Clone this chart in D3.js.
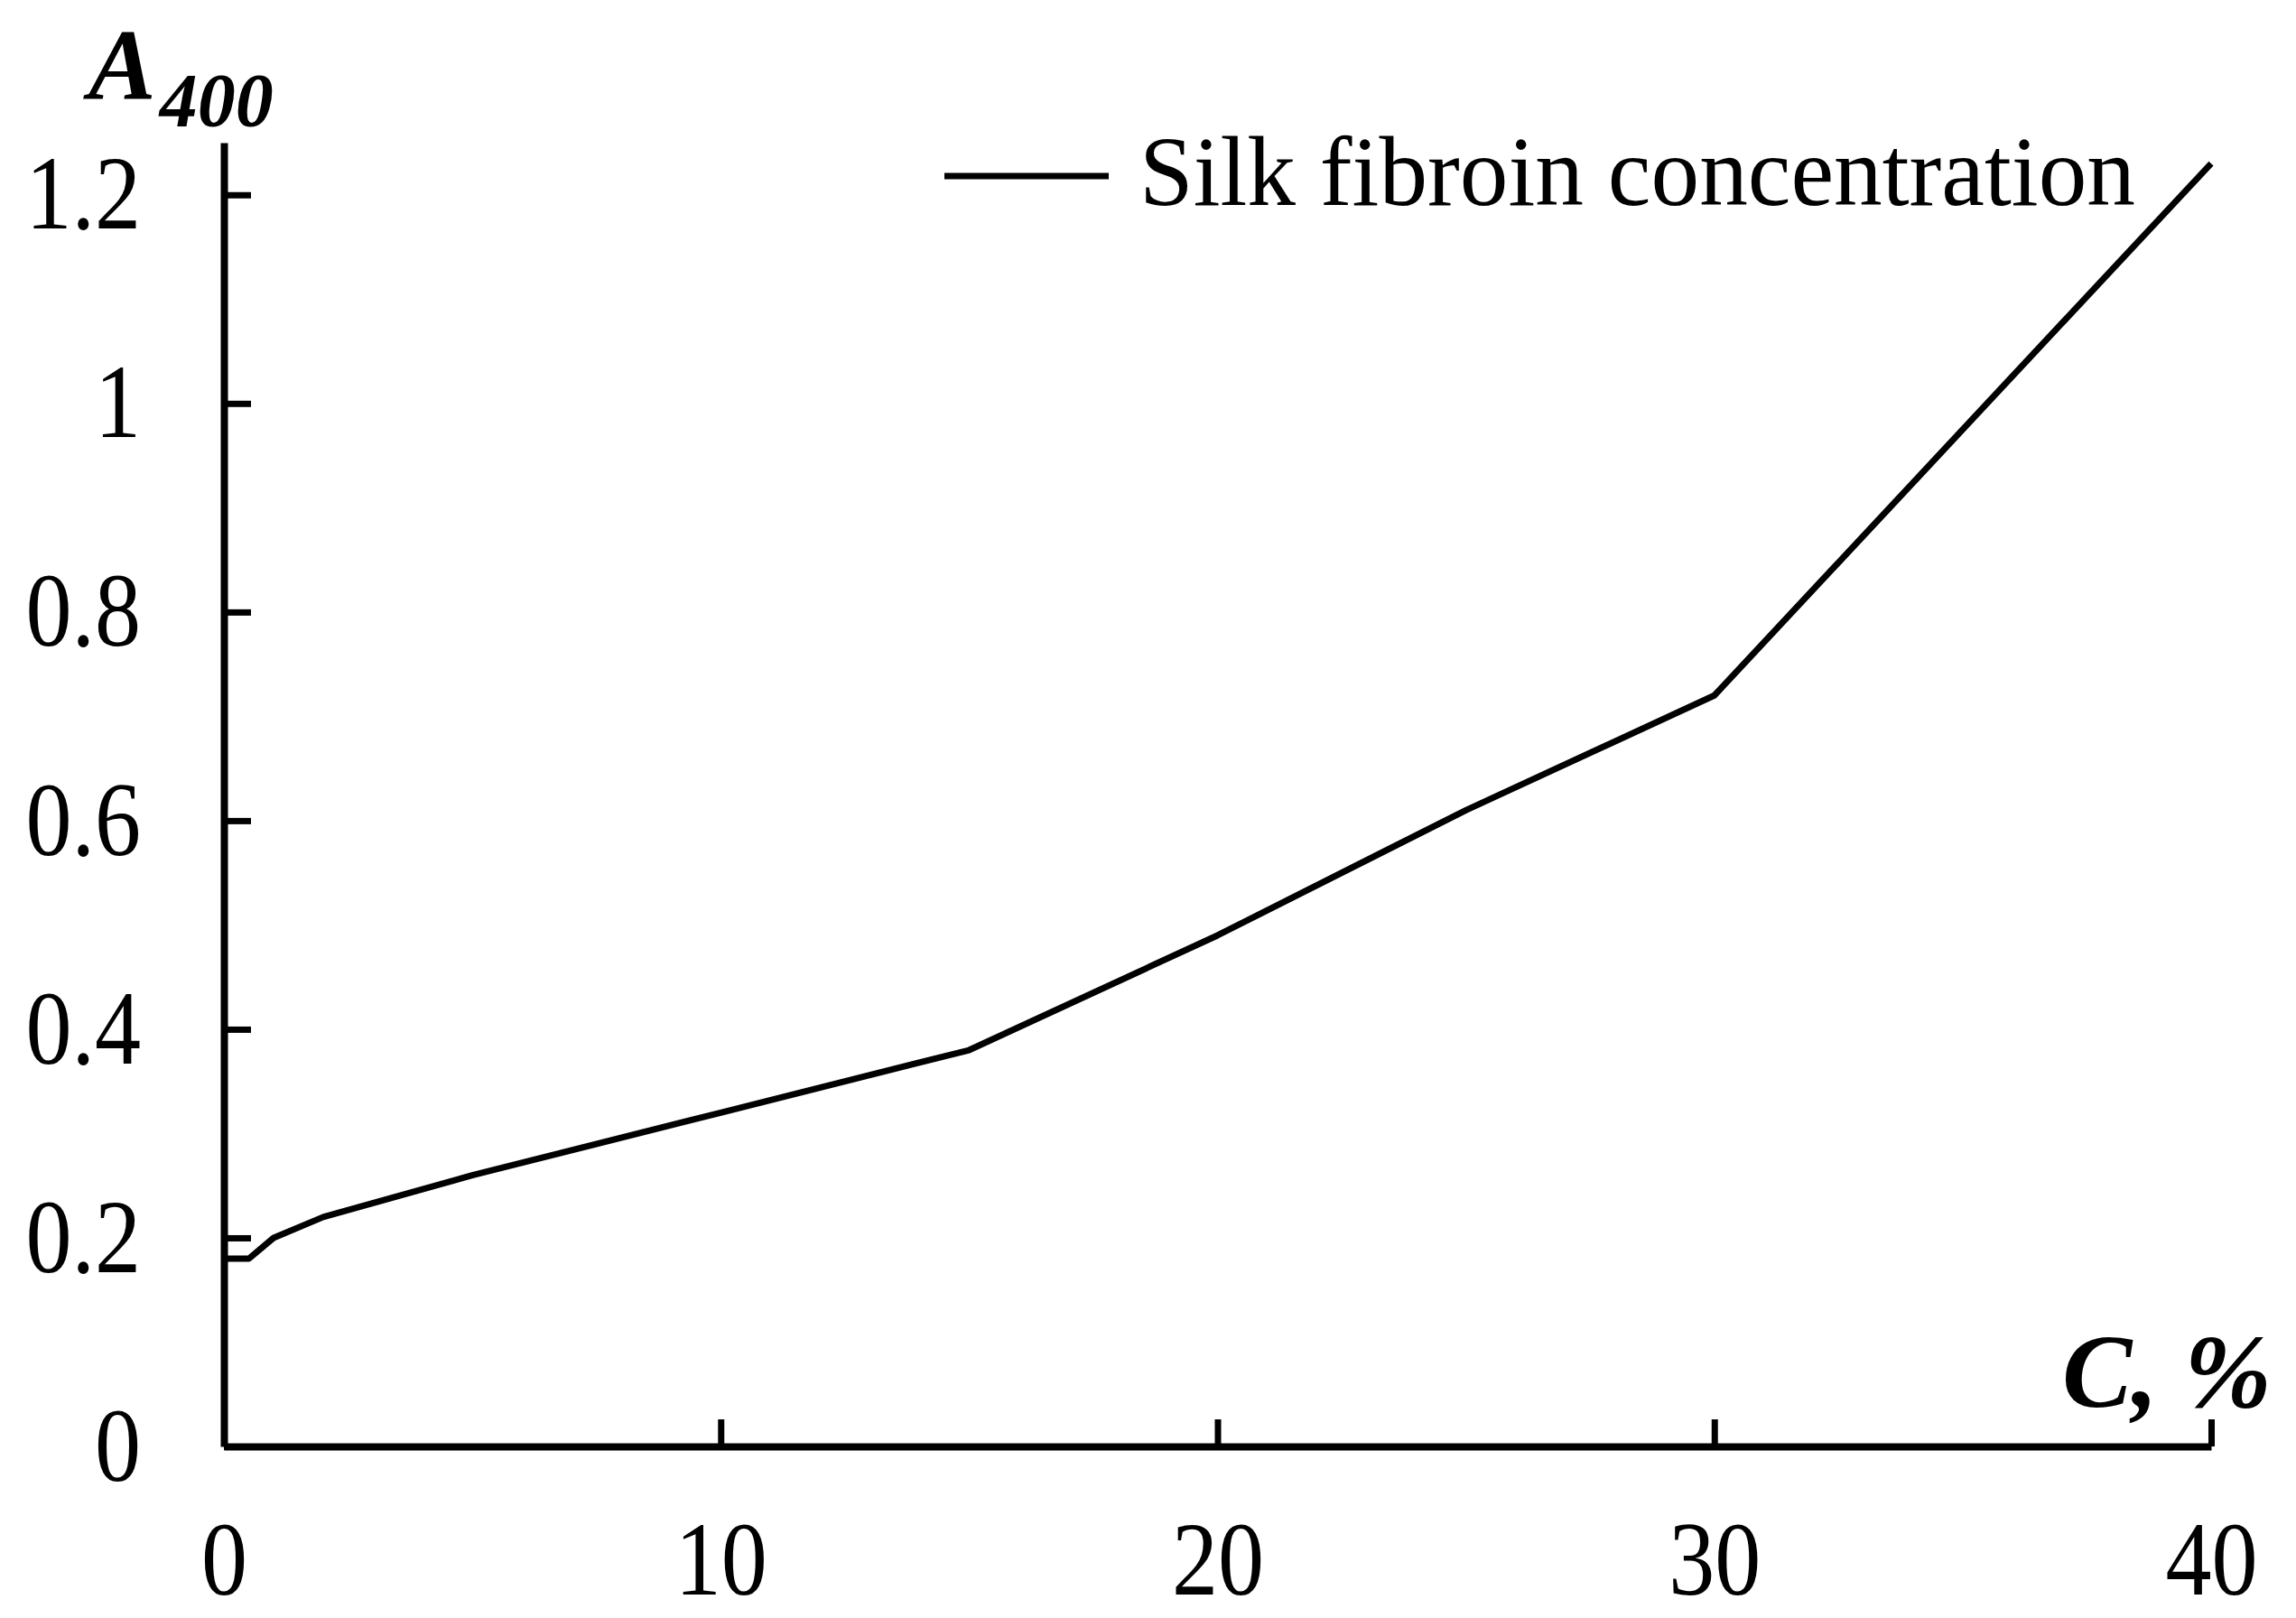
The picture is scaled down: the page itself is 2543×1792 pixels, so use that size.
<!DOCTYPE html>
<html>
<head>
<meta charset="utf-8">
<script src="https://cdn.jsdelivr.net/npm/d3@7"></script>
<style>
  html, body { margin: 0; padding: 0; background: #fff; }
  svg { display: block; font-family: "Liberation Serif", "Times New Roman", serif; }
</style>
</head>
<body>
<svg width="2543" height="1792"></svg>
<script>
"use strict";

// Data
const concentration = [0, 0.5, 1, 2, 5, 10, 15, 20, 25, 30, 35, 40];
const absorbance = [0.18, 0.18, 0.2, 0.22, 0.26, 0.32, 0.38, 0.49, 0.61, 0.72, 0.975, 1.23];
const xTicks = [0, 10, 20, 30, 40];
const yTicks = [0, 0.2, 0.4, 0.6, 0.8, 1, 1.2];
const seriesName = "Silk fibroin concentration";

const values = concentration.map((x, i) => ({ x, y: absorbance[i] }));

const svg = d3.select("svg");

// Scales
const xScale = d3.scaleLinear().domain([0, 40]).range([248, 2449]);
const yScale = d3.scaleLinear().domain([0, 1.25]).range([1602, 158]);

// Axes
const xAxis = svg.append("g")
  .attr("transform", `translate(0, ${yScale(0)})`)
  .call(d3.axisBottom(xScale)
    .tickValues(xTicks)
    .tickSizeInner(-30)
    .tickSizeOuter(0)
    .tickPadding(82)
    .tickFormat(d => d));

const yAxis = svg.append("g")
  .attr("transform", `translate(${xScale(0)}, 0)`)
  .call(d3.axisLeft(yScale)
    .tickValues(yTicks)
    .tickSizeInner(-30)
    .tickSizeOuter(0)
    .tickPadding(92)
    .tickFormat(d => String(d)));

// the original type is a bit narrower than Liberation Serif, squeeze it
[xAxis, yAxis].forEach(g => {
  g.select(".domain").attr("stroke", "#000").attr("stroke-width", 8);
  g.selectAll(".tick line").attr("stroke", "#000").attr("stroke-width", 7);
  g.selectAll(".tick text").each(function () {
    const t = d3.select(this);
    const tx = +t.attr("x") || 0;
    const ty = +t.attr("y") || 0;
    t.attr("x", 0).attr("y", 0)
      .attr("transform", `translate(${tx}, ${ty}) scale(0.88, 1)`)
      .attr("fill", "#000")
      .style("font-family", "'Liberation Serif', serif")
      .style("font-size", "116px");
  });
});

// Line
const line = d3.line()
  .x(d => xScale(d.x))
  .y(d => yScale(d.y));

svg.append("path")
  .attr("d", line(values))
  .attr("fill", "none")
  .attr("stroke", "#000")
  .attr("stroke-width", 7)
  .attr("stroke-linejoin", "round");

// Axis titles
const yTitle = svg.append("text")
  .attr("x", 98)
  .attr("y", 110)
  .style("font-weight", "bold")
  .style("font-style", "italic")
  .style("font-size", "112px");
yTitle.append("tspan").text("A");
yTitle.append("tspan")
  .attr("dx", 4)
  .attr("dy", 30)
  .style("font-size", "84px")
  .text("400");

svg.append("text")
  .attr("x", 2516)
  .attr("y", 1558)
  .attr("text-anchor", "end")
  .style("font-weight", "bold")
  .style("font-style", "italic")
  .style("font-size", "116px")
  .text("C, %");

// Legend
svg.append("line")
  .attr("x1", 1046).attr("x2", 1228)
  .attr("y1", 195).attr("y2", 195)
  .attr("stroke", "#000")
  .attr("stroke-width", 7);

svg.append("text")
  .attr("x", 1262)
  .attr("y", 227)
  .attr("textLength", 1103)
  .attr("lengthAdjust", "spacingAndGlyphs")
  .style("font-size", "110px")
  .text(seriesName);
</script>
</body>
</html>
